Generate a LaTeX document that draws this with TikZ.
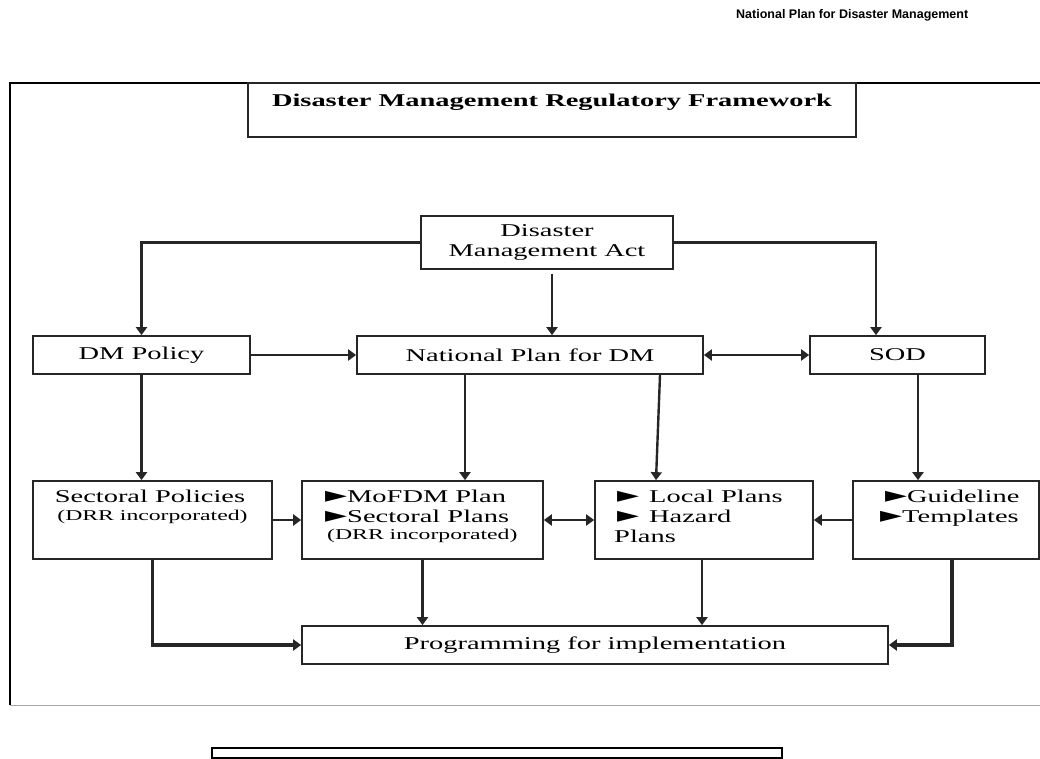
\documentclass[tikz,border=0pt]{standalone}
\usepackage{fontspec}
\setmainfont{Liberation Serif}[FakeStretch=1.58]
\newfontfamily\hdrfont{Liberation Sans}
\newfontfamily\symfont{DejaVu Sans}[FakeStretch=1.3]
\newcommand{\tri}{{\symfont\fontsize{22}{20}\selectfont ►}}
\usetikzlibrary{arrows.meta}
\begin{document}
\begin{tikzpicture}[x=1pt,y=-1pt,
  box/.style={draw=black!85, line width=1.7pt, inner sep=0pt, align=center,
    font=\fontsize{18}{20}\selectfont},
  txt/.style={inner sep=0pt, font=\fontsize{18}{20}\selectfont},
  small/.style={inner sep=0pt, font=\fontsize{15}{17}\selectfont},
  arr/.style={line width=2.4pt, draw=black!85, -{Triangle[width=11pt,length=8pt]}},
  darr/.style={line width=2.4pt, draw=black!85, {Triangle[width=11pt,length=8pt]}-{Triangle[width=11pt,length=8pt]}},
  thick arr/.style={arr, line width=3.2pt}
]
\useasboundingbox (0,0) rectangle (1040,759);
% header
\node[inner sep=0pt, anchor=base west, font=\hdrfont\bfseries\fontsize{12.5}{14}\selectfont] (hdr) at (736,19) {National Plan for Disaster Management};
% frame
\draw[line width=2.4pt] (10,705) -- (10,83) -- (1040,83);
\draw[black!35, line width=1pt] (10,705) -- (1040,705);
% title
\node[box, minimum width=608pt, minimum height=54pt] (tbox) at (552,110) {};
\node[txt, anchor=base] (ttl) at (552,107) {\bfseries Disaster Management Regulatory Framework};
% row 1
\node[box, minimum width=252pt, minimum height=53pt] (dma) at (547,242.5) {Disaster\\Management Act};
% row 2
\node[box, minimum width=217pt, minimum height=38pt] (dmp) at (141.5,355) {DM Policy};
\node[box, minimum width=346pt, minimum height=38pt] (np) at (530,355) {National Plan for DM};
\node[box, minimum width=175pt, minimum height=38pt] (sod) at (897.5,355) {SOD};
% row 3
\node[box, minimum width=239pt, minimum height=78pt] (sp) at (152.5,520) {};
\node[box, minimum width=241pt, minimum height=78pt] (mof) at (422.5,520) {};
\node[box, minimum width=218pt, minimum height=78pt] (loc) at (704,520) {};
\node[box, minimum width=186pt, minimum height=78pt] (gui) at (946,520) {};
\node[txt, anchor=base] (sp1) at (150,502) {Sectoral Policies};
\node[small, anchor=base] (sp2) at (152.5,520) {(DRR incorporated)};
\node[txt, anchor=base west] (mof1) at (325,502) {\tri MoFDM Plan};
\node[txt, anchor=base west] (mof2) at (325,522) {\tri Sectoral Plans};
\node[small, anchor=base west] (mof3) at (327,539) {(DRR incorporated)};
\node[txt, anchor=base west] (loc1) at (617,502) {\tri\hspace{10pt}Local Plans};
\node[txt, anchor=base west] (loc2) at (617,522) {\tri\hspace{10pt}Hazard};
\node[txt, anchor=base west] (loc3) at (614,542) {Plans};
\node[txt, anchor=base west] (gui1) at (885,502) {\tri Guideline};
\node[txt, anchor=base west] (gui2) at (880,522) {\tri Templates};
% row 4
\node[box, minimum width=586pt, minimum height=38pt] (prog) at (595,645) {Programming for implementation};
% footer box
\node[draw=black, line width=2pt, inner sep=0pt, minimum width=570pt, minimum height=10pt] (foot) at (497,753) {};
% connectors
\draw[arr] (dma.west) -| (dmp.north);
\draw[arr] (dma.east) -| ([xshift=-21.5pt]sod.north);
\draw[arr] ([xshift=5pt,yshift=-4pt]dma.south) -- ([xshift=5pt]dma.south |- np.north);
\draw[arr] (dmp.east) -- (np.west);
\draw[darr] (np.east) -- (sod.west);
\draw[arr] (dmp.south) -- (dmp.south |- sp.north);
\draw[arr] ([xshift=-65pt]np.south) -- ([xshift=-65pt]np.south |- mof.north);
\draw[arr] ([xshift=130pt]np.south) -- ([xshift=126pt]np.south |- loc.north);
\draw[arr] ([xshift=20.5pt]sod.south) -- ([xshift=20.5pt]sod.south |- gui.north);
\draw[arr] (sp.east) -- (mof.west);
\draw[darr] (mof.east) -- (loc.west);
\draw[arr] (gui.west) -- (loc.east);
\draw[thick arr] (sp.south) |- (prog.west);
\draw[arr] (mof.south) -- (mof.south |- prog.north);
\draw[arr] ([xshift=-2pt]loc.south) -- ([xshift=-2pt]loc.south |- prog.north);
\draw[thick arr] ([xshift=6pt]gui.south) |- (prog.east);
\end{tikzpicture}
\end{document}
